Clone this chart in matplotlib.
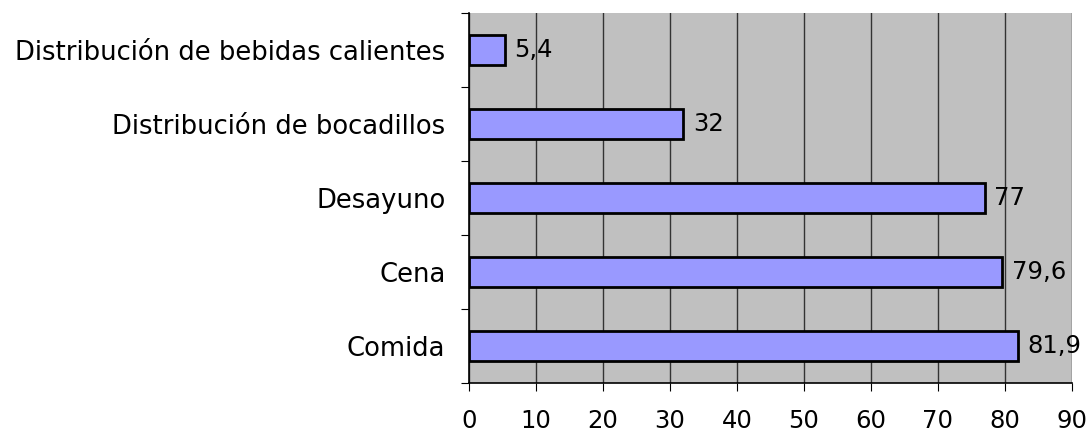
import numpy as np
import matplotlib.pyplot as plt

categories = ["Comida", "Cena", "Desayuno", "Distribución de bocadillos",
              "Distribución de bebidas calientes"]
values = [81.9, 79.6, 77, 32, 5.4]
value_labels = ["81,9", "79,6", "77", "32", "5,4"]
xticks = [0, 10, 20, 30, 40, 50, 60, 70, 80, 90]

fs = 17.5

fig = plt.figure(figsize=(10.88, 4.34), dpi=100)
ax = fig.add_axes([469 / 1088, 1 - 383 / 434, (1072 - 469) / 1088, (383 - 13) / 434])
ax.set_facecolor("#C0C0C0")

y = np.arange(len(categories))
ax.barh(y, values, height=0.4, color="#9999FF", edgecolor="black", linewidth=2, zorder=3)
for yi, v, lab in zip(y, values, value_labels):
    ax.text(v + 1.4, yi, lab, va="center", ha="left", fontsize=fs, zorder=4)

ax.set_xlim(0, 90)
ax.set_ylim(-0.5, len(categories) - 0.5)
ax.set_xticks(xticks)
ax.set_xticklabels([str(t) for t in xticks], fontsize=fs)
ax.xaxis.grid(True, color="#333333", linewidth=1)
ax.set_axisbelow(True)

# category labels sit between the tick marks
ax.set_yticks(np.arange(-0.5, len(categories), 1.0))
ax.set_yticklabels([])
ax.set_yticks(y, minor=True)
ax.set_yticklabels(categories, minor=True, fontsize=18.6)
ax.tick_params(axis="y", which="minor", length=0, pad=17)
ax.tick_params(axis="y", which="major", length=6, direction="out")
ax.tick_params(axis="x", length=6, direction="out", pad=13)

for s in ["top", "right"]:
    ax.spines[s].set_visible(False)
ax.spines["left"].set_linewidth(1.2)
ax.spines["bottom"].set_linewidth(1.2)

fig.savefig("out.png", dpi=100)
